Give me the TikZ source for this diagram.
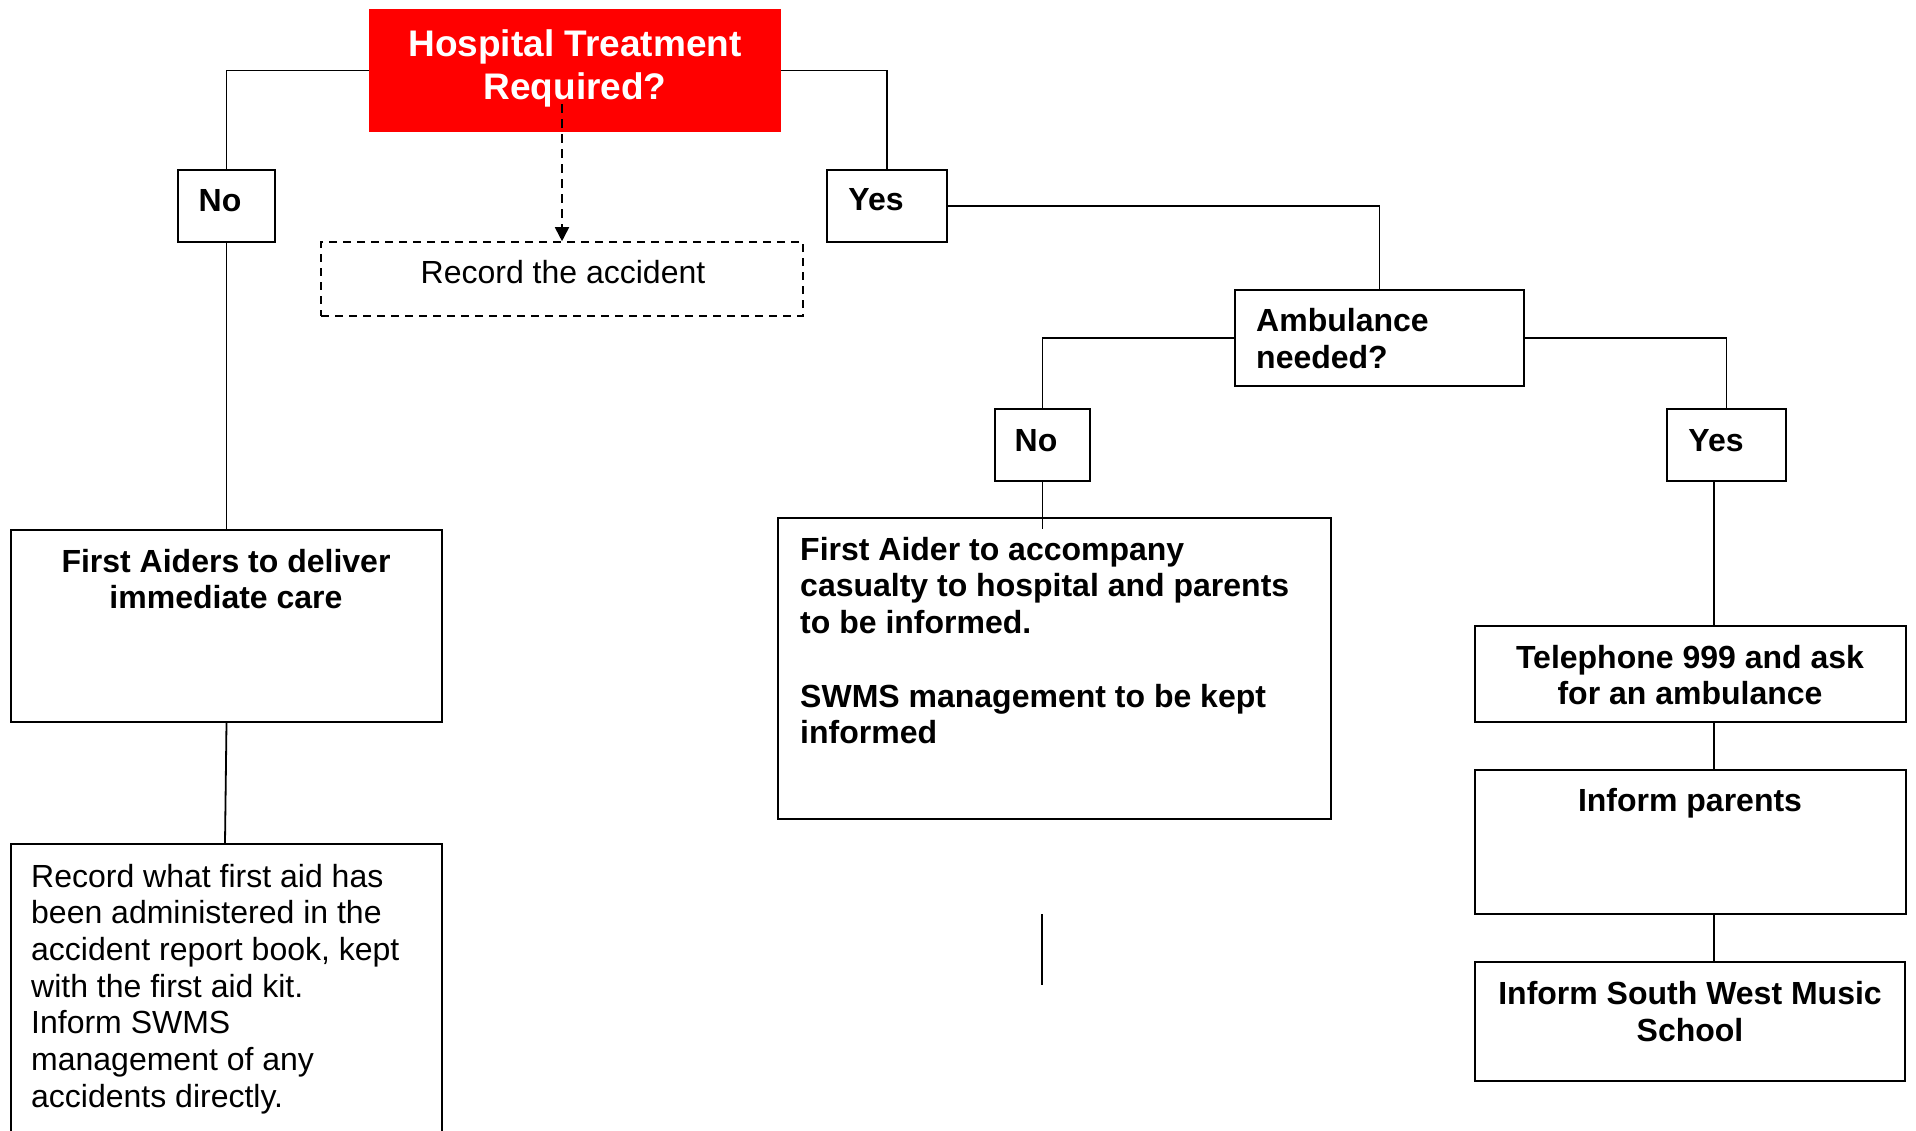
\documentclass[tikz,border=0pt]{standalone}
\usepackage{fontspec}
\setmainfont{Liberation Sans}
\usetikzlibrary{arrows.meta,calc}
\begin{document}
\begin{tikzpicture}[x=1pt,y=-1pt,
  box/.style={draw=black,line width=1.8pt,rectangle,inner sep=0pt},
  dbox/.style={draw=black,line width=1.6pt,rectangle,inner sep=0pt,dash pattern=on 8pt off 6pt},
  txt/.style={inner sep=0pt,font=\fontsize{32}{36.7}\selectfont},
  btxt/.style={inner sep=0pt,font=\fontsize{32}{36.7}\selectfont\bfseries},
  conn/.style={draw=black,line width=1.8pt}]
\useasboundingbox (0,0) rectangle (1916,1130);
\clip (0,0) rectangle (1916,1130);
% boxes
\node[box,draw=red,fill=red,minimum width=410pt,minimum height=121pt] (red) at (575,70.5) {};
\node[box,minimum width=97pt,minimum height=72pt] (no1) at (226.5,206) {};
\node[box,minimum width=120pt,minimum height=72pt] (yes1) at (887,206) {};
\node[dbox,minimum width=482pt,minimum height=74pt] (rec) at (562,279) {};
\node[box,minimum width=431pt,minimum height=192pt] (fa) at (226.5,626) {};
\node[box,minimum width=431pt,minimum height=296pt] (recwhat) at (226.5,992) {};
\node[box,minimum width=289pt,minimum height=96pt] (amb) at (1379.5,338) {};
\node[box,minimum width=95pt,minimum height=72pt] (no2) at (1042.5,445) {};
\node[box,minimum width=553pt,minimum height=301pt] (fa2) at (1054.5,668.5) {};
\node[box,minimum width=119pt,minimum height=72pt] (yes2) at (1726.5,445) {};
\node[box,minimum width=431pt,minimum height=96pt] (tel) at (1690.5,674) {};
\node[box,minimum width=431pt,minimum height=144pt] (par) at (1690.5,842) {};
\node[box,minimum width=430pt,minimum height=119pt] (swms) at (1690,1021.5) {};
% texts
\node[inner sep=0pt,font=\fontsize{37}{43}\selectfont\bfseries,text=white,align=center] (redt) at (575,68) {Hospital Treatment\\Required?};
\node[btxt] (no1t) at (220,201) {No};
\node[btxt] (yes1t) at (876,200) {Yes};
\node[txt] (rect) at (563,272) {Record the accident};
\node[btxt,align=center] (fat) at (226,579) {First Aiders to deliver\\immediate care};
\node[txt,align=left,anchor=west] (recwhatt) at (31,989) {Record what first aid has\\been administered in the\\accident report book, kept\\with the first aid kit.\\Inform SWMS\\management of any\\accidents directly.};
\node[btxt,align=left,anchor=west] (ambt) at (1256,338.5) {Ambulance\\needed?};
\node[btxt] (no2t) at (1036,441) {No};
\node[btxt] (yes2t) at (1716,441) {Yes};
\node[btxt,align=left,anchor=west] (fa2t) at (800,640.5) {First Aider to accompany\\casualty to hospital and parents\\to be informed.\\[36.7pt]SWMS management to be kept\\informed};
\node[btxt,align=center] (telt) at (1690,675) {Telephone 999 and ask\\for an ambulance};
\node[btxt] (part) at (1690,803.5) {Inform parents};
\node[btxt,align=center] (swmst) at (1690,1011.5) {Inform South West Music\\School};
% connectors
\draw[conn] (red.west) -| (no1.north);
\draw[conn] (red.east) -| (yes1.north);
\draw[conn] (yes1.east) -| (amb.north);
\draw[conn] (amb.west) -| (no2.north);
\draw[conn] (amb.east) -| (yes2.north);
\draw[conn] (no1.south) -- (fa.north);
\draw[conn] (fa.south) -- ([xshift=-1.5pt]recwhat.north);
\draw[conn] (no2.south) -- ++(0,47);
\coordinate (yb) at ([xshift=-12.5pt]yes2.south);
\draw[conn] (yb) -- (yb |- tel.north);
\draw[conn] (yb |- tel.south) -- (yb |- par.north);
\draw[conn] (yb |- par.south) -- (yb |- swms.north);
\coordinate (dstart) at (562,104);
\draw[line width=1.8pt,dash pattern=on 9pt off 6pt,-{Triangle[width=14pt,length=14pt]}] (dstart) -- (dstart |- rec.north);
\coordinate (s1) at (1042,914);
\coordinate (s2) at (1042,985);
\draw[conn] (s1) -- (s2);
\end{tikzpicture}
\end{document}
